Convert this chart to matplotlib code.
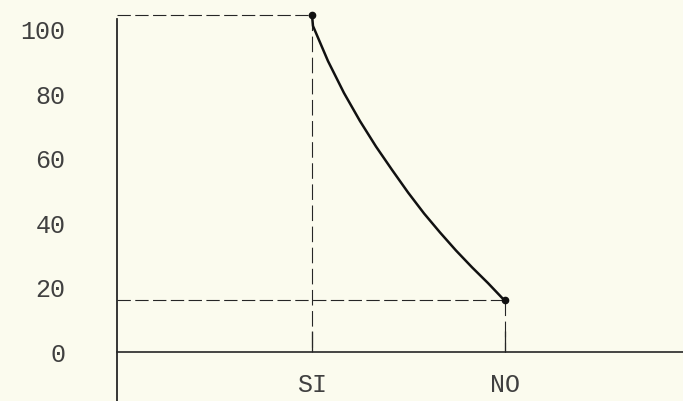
import matplotlib
matplotlib.use('Agg')
import matplotlib.pyplot as plt

# categorie e valori
categories = ['SI', 'NO']
cat_x = [1.0, 2.0]
values = [104.5, 16.0]
y_ticks = [0, 20, 40, 60, 80, 100]

# punti letti lungo la curva (da SI a NO)
curve_x = [1.0, 1.005, 1.083, 1.166, 1.249, 1.332, 1.416, 1.499,
           1.582, 1.665, 1.748, 1.831, 1.914, 2.0]
curve_y = [104.5, 101.2, 90.3, 80.4, 71.7, 63.8, 56.5, 49.5,
           43.0, 37.1, 31.5, 26.3, 21.4, 16.0]

bg = '#fbfbee'
ink = '#262626'
font = ['Liberation Mono', 'DejaVu Sans Mono']

fig = plt.figure(figsize=(6.83, 4.01), dpi=100, facecolor=bg)
ax = fig.add_axes([0.1713, 0.0, 0.8287, 0.9626], facecolor=bg)

x0, x1 = -0.013, 2.927
ax.set_xlim(x0, x1)
ax.set_ylim(-15.2, 104.6)

# asse a y=0 (prima di impostare i tick, set_position li azzera)
ax.spines['bottom'].set_position(('data', 0))
ax.spines['bottom'].set_color(ink)
ax.spines['bottom'].set_linewidth(1.2)
for s in ['top', 'right']:
    ax.spines[s].set_visible(False)
ax.spines['left'].set_color(ink)
ax.spines['left'].set_linewidth(1.3)
ax.spines['left'].set_bounds(-15.2, 103.5)

# linee tratteggiate di riferimento
for x, v in zip(cat_x, values):
    ax.plot([x0, x], [v, v], color=ink, lw=0.8, dashes=(12, 4), clip_on=False)
    ax.plot([x, x], [v, 0], color=ink, lw=0.8, dashes=(14, 5), clip_on=False)

ax.plot(curve_x, curve_y, color='#111111', lw=1.8, solid_capstyle='round',
        solid_joinstyle='round', clip_on=False)
ax.plot(cat_x, values, 'o', color='#111111', ms=4.5, clip_on=False)

ax.set_yticks(y_ticks)
ax.set_yticklabels([str(t) for t in y_ticks], family=font, fontsize=18, color='#404040')
ax.tick_params(axis='y', length=0, pad=37)

ax.set_xticks(cat_x)
ax.set_xticklabels(categories, family=font, fontsize=18, color='#404040')
ax.tick_params(axis='x', direction='in', length=15, width=0.9, color=ink, pad=15)

fig.savefig('out.png', dpi=100, facecolor=bg)
